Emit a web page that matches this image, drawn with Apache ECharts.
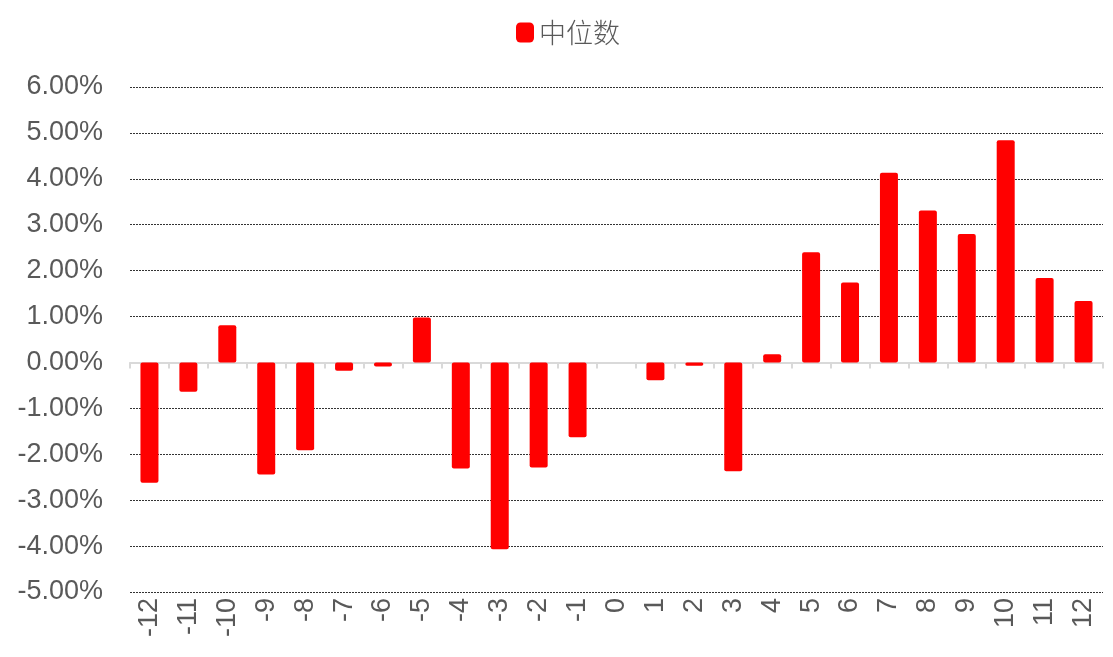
<!DOCTYPE html>
<html>
<head>
<meta charset="utf-8">
<script src="https://cdn.jsdelivr.net/npm/echarts@6/dist/echarts.min.js"></script>
<style>
  html, body { margin: 0; padding: 0; background: #fff; }
  #chart { width: 1113px; height: 657px; }
</style>
</head>
<body>
<div id="chart"></div>
<script>
const categories = ['-12', '-11', '-10', '-9', '-8', '-7', '-6', '-5', '-4', '-3', '-2', '-1', '0',
  '1', '2', '3', '4', '5', '6', '7', '8', '9', '10', '11', '12']
// 中位数 (%)
const medianValues = [-2.62, -0.64, 0.81, -2.44, -1.91, -0.18, -0.09, 0.98, -2.31, -4.07, -2.29, -1.63, 0,
  -0.39, -0.07, -2.37, 0.18, 2.40, 1.74, 4.13, 3.31, 2.80, 4.84, 1.84, 1.34]
const seriesName = '中位数'

const chart = echarts.init(document.getElementById('chart'))
const textColor = '#595959'

chart.setOption({
  animation: false,
  legend: {
    data: [seriesName],
    top: 14,
    left: 511,
    icon: 'roundRect',
    itemWidth: 18,
    itemHeight: 20,
    textStyle: { color: textColor, fontSize: 27, fontFamily: 'Noto Sans CJK SC', fontWeight: 300 },
  },
  grid: { left: 130, right: 10, top: 87, bottom: 65 },
  xAxis: [
    {
      type: 'category',
      data: categories,
      position: 'bottom',
      axisLine: { show: false, onZero: false },
      axisTick: { show: false },
      axisLabel: {
        rotate: 90,
        color: textColor,
        fontSize: 27,
        fontFamily: 'Liberation Sans',
        margin: 6,
        interval: 0,
      },
    },
    {
      type: 'category',
      data: categories,
      position: 'bottom',
      axisLine: { show: true, onZero: true, lineStyle: { color: '#d9d9d9', width: 2 } },
      axisTick: { show: true, length: 6, lineStyle: { color: '#d9d9d9', width: 2 } },
      axisLabel: { show: false },
    },
  ],
  yAxis: {
    type: 'value',
    min: -5,
    max: 6,
    interval: 1,
    axisLine: { show: false },
    axisTick: { show: false },
    axisLabel: {
      color: textColor,
      fontSize: 27,
      fontFamily: 'Liberation Sans',
      margin: 27,
      formatter: v => v.toFixed(2) + '%',
    },
    splitLine: { lineStyle: { color: '#333333', type: [2, 1], width: 1 } },
  },
  series: [
    {
      name: seriesName,
      type: 'bar',
      xAxisIndex: 0,
      data: medianValues,
      barWidth: 18,
      itemStyle: { color: '#ff0000', borderRadius: 2 },
    },
  ],
})
</script>
</body>
</html>
